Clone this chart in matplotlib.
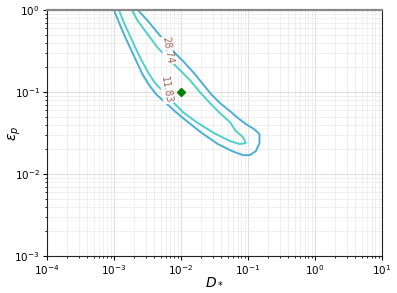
import matplotlib
matplotlib.use("Agg")
import matplotlib.pyplot as plt

# contour traces (D_*, eps_p)
outer_x = [1.00e-3, 1.27e-3, 1.62e-3, 2.06e-3, 2.71e-3, 3.44e-3, 4.39e-3, 5.97e-3, 8.41e-3,
           0.0127, 0.0206, 0.0356, 0.0577, 0.0841, 0.107, 0.132, 0.149,
           0.149, 0.123, 0.0933, 0.0709, 0.0538, 0.0382, 0.0281, 0.0213, 0.0156, 0.0111,
           6.85e-3, 4.54e-3, 3.22e-3, 2.28e-3]
outer_y = [1.0, 0.621, 0.396, 0.260, 0.161, 0.118, 0.0919, 0.0734, 0.0570,
           0.0431, 0.0316, 0.0232, 0.0191, 0.0170, 0.0170, 0.0191, 0.0239,
           0.0307, 0.0354, 0.0407, 0.0482, 0.0587, 0.0734, 0.0946, 0.125, 0.171, 0.232,
           0.344, 0.524, 0.734, 1.0]

inner_x = [1.19e-3, 1.46e-3, 1.86e-3, 2.44e-3, 3.22e-3, 4.09e-3, 5.77e-3, 7.87e-3, 0.0111,
           0.0179, 0.0311, 0.0538, 0.0760, 0.0933,
           0.0841, 0.0662, 0.0538, 0.0382, 0.0271, 0.0192, 0.0136, 9.67e-3, 6.85e-3,
           4.54e-3, 3.01e-3, 2.28e-3, 1.86e-3]
inner_y = [1.0, 0.656, 0.431, 0.267, 0.175, 0.129, 0.0972, 0.0734, 0.0554,
           0.0419, 0.0316, 0.0253, 0.0232, 0.0239,
           0.0283, 0.0334, 0.0431, 0.0554, 0.0734, 0.100, 0.140, 0.185, 0.246,
           0.344, 0.539, 0.734, 1.0]

levels = ["28.74", "11.83"]
label_x = [6.3e-3, 6.1e-3]
label_y = [0.321, 0.106]

true_x = [0.01]
true_y = [0.1]

fig = plt.figure(figsize=(3.97, 2.93), dpi=100)
ax = fig.add_axes([0.118, 0.126, 0.844, 0.840])

ax.set_xscale("log")
ax.set_yscale("log")
ax.set_xlim(1e-4, 1e1)
ax.set_ylim(1e-3, 1e0)

ax.grid(True, which="major", color="#e0e0e0", lw=0.8)
ax.grid(True, which="minor", color="#ececec", lw=0.6)
ax.set_axisbelow(True)

ax.plot(outer_x, outer_y, color="#4bb0d6", lw=1.4)
ax.plot(inner_x, inner_y, color="#4fd0c8", lw=1.4)
ax.plot(true_x, true_y, "D", color="green", ms=4.5, zorder=5)

for t, x, y in zip(levels, label_x, label_y):
    ax.text(x, y, t, rotation=-80, fontsize=7, color="#a0645c",
            ha="center", va="center", zorder=4,
            bbox=dict(fc="white", ec="none", pad=0.2))

ax.set_xlabel(r"$D_*$", fontsize=10)
ax.set_ylabel(r"$\epsilon_p$", fontsize=10)
ax.xaxis.set_label_coords(0.5, -0.072)
ax.yaxis.set_label_coords(-0.07, 0.5)
ax.tick_params(labelsize=7.5, which="both", direction="out", pad=2)
ax.tick_params(which="major", length=3)
ax.tick_params(which="minor", length=1.5)

for s in ["left", "bottom", "right"]:
    ax.spines[s].set_color("#222222")
ax.spines["top"].set_color("#888888")
ax.spines["top"].set_linewidth(1.6)

fig.savefig("out.png", dpi=100)
